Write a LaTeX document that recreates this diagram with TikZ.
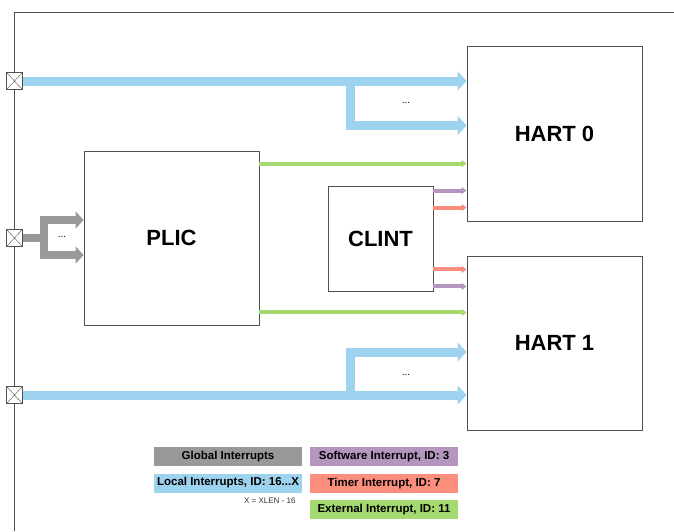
\documentclass[tikz,border=0pt]{standalone}
\usepackage{fontspec}
\setmainfont{Liberation Sans}
\usetikzlibrary{arrows.meta}
\definecolor{localblue}{RGB}{158,211,240}
\definecolor{globalgray}{RGB}{153,153,153}
\definecolor{extgreen}{RGB}{164,216,112}
\definecolor{softpurple}{RGB}{180,150,190}
\definecolor{timerred}{RGB}{252,142,126}
\definecolor{frameline}{RGB}{80,80,80}

\begin{document}
\begin{tikzpicture}[x=1pt,y=-1pt,
    unit/.style={draw=frameline, line width=0.9pt, fill=white, inner sep=0pt, font=\bfseries\fontsize{22}{26}\selectfont},
    port/.style={draw=frameline, fill=white, minimum width=16pt, minimum height=17pt, inner sep=0pt,
        path picture={\draw[frameline] (path picture bounding box.south west) -- (path picture bounding box.north east)
            (path picture bounding box.north west) -- (path picture bounding box.south east);}},
    lint/.style={localblue, line width=9pt, line join=miter, -{Triangle[length=9pt,width=19pt]}},
    gint/.style={globalgray, line width=8pt, line join=miter},
    thinint/.style={line width=4pt, -{Triangle[length=5pt,width=7pt]}},
    legend/.style={minimum width=148pt, minimum height=19pt, inner sep=0pt, font=\bfseries\fontsize{11.5}{13}\selectfont},
    dotslabel/.style={font=\fontsize{10}{12}\selectfont}]
    \useasboundingbox (0,0) rectangle (674,531);

    % frame
    \draw[frameline, line width=0.9pt] (14,531) -- (14,12) -- (674,12);

    % units
    \node[unit, minimum width=175pt, minimum height=175pt] (hart0) at (554.5,133.5) {HART 0};
    \node[unit, minimum width=175pt, minimum height=174pt] (hart1) at (554.5,343) {HART 1};
    \node[unit, minimum width=175pt, minimum height=174pt] (plic) at (171.5,238) {PLIC};
    \node[unit, minimum width=105pt, minimum height=105pt] (clint) at (380.5,238.5) {CLINT};

    % local interrupts
    \coordinate (b0) at (350,81);
    \coordinate (b1) at (350,395);
    \draw[lint] (b0) |- ([yshift=8pt]hart0.west);
    \draw[lint] (b1) |- ([yshift=-9pt]hart1.west);
    \node[port] (p0) at (14.5,81) {};
    \node[port] (p2) at (14.5,395) {};
    \draw[lint] (p0.east) -- (p0 -| hart0.west);
    \draw[lint] (p2.east) -- (p2 -| hart1.west);
    \node[dotslabel] (dots0) at (406,103) {...};
    \node[dotslabel] (dots1) at (406,375) {...};

    % global interrupts
    \coordinate (g) at (44,238);
    \draw[gint, -{Triangle[length=8pt,width=17pt]}] (g) |- ([yshift=18pt]plic.west);
    \draw[gint, -{Triangle[length=8pt,width=17pt]}] (g) |- ([yshift=-17pt]plic.west);
    \node[port] (p1) at (14.5,238) {};
    \draw[gint] (p1.east) -- (g);
    \node[dotslabel] (dots2) at (62,237) {...};

    % external interrupts
    \draw[thinint, extgreen] ([yshift=-13pt]plic.north east) coordinate (e0) -- (e0 -| hart0.west);
    \draw[thinint, extgreen] ([yshift=13pt]plic.south east) coordinate (e1) -- (e1 -| hart1.west);

    % software and timer interrupts
    \draw[thinint, softpurple] ([yshift=-5pt]clint.north east) coordinate (s0) -- (s0 -| hart0.west);
    \draw[thinint, timerred] ([yshift=-22pt]clint.north east) coordinate (t0) -- (t0 -| hart0.west);
    \draw[thinint, timerred] ([yshift=22pt]clint.south east) coordinate (t1) -- (t1 -| hart1.west);
    \draw[thinint, softpurple] ([yshift=5pt]clint.south east) coordinate (s1) -- (s1 -| hart1.west);

    % legend
    \node[legend, fill=globalgray] (lglobal) at (228,456.5) {Global Interrupts};
    \node[legend, fill=localblue] (llocal) at (228,483) {Local Interrupts, ID: 16...X};
    \node[font=\fontsize{8}{9}\selectfont, text=black!80, anchor=east] (lxlen) at (299,501) {X = XLEN - 16};
    \node[legend, fill=softpurple] (lsoft) at (384,456.5) {Software Interrupt, ID: 3};
    \node[legend, fill=timerred] (ltimer) at (384,483.5) {Timer Interrupt, ID: 7};
    \node[legend, fill=extgreen] (lext) at (384,509.5) {External Interrupt, ID: 11};
\end{tikzpicture}
\end{document}
